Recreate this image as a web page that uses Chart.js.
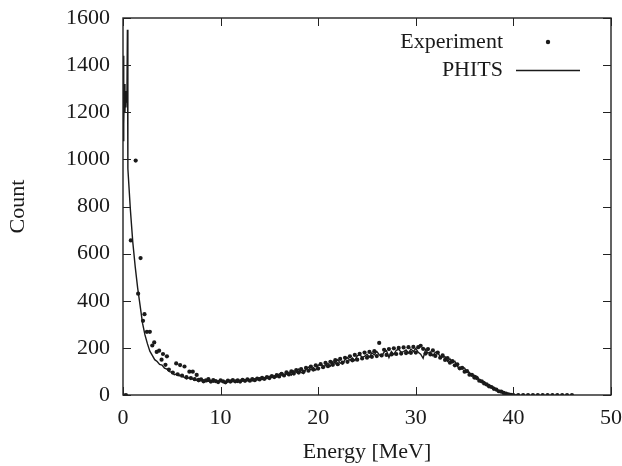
<!DOCTYPE html>
<html>
<head>
<meta charset="utf-8">
<title>Energy spectrum</title>
<script src="https://cdn.jsdelivr.net/npm/chart.js@4.4.0/dist/chart.umd.min.js"></script>
<style>
  body { margin: 0; background: #fff; }
  canvas { display: block; }
</style>
</head>
<body>
<canvas id="spectrumChart" width="622" height="466"></canvas>
<script>
// Axis ticks
const energyTicks = [0, 10, 20, 30, 40, 50];
const countTicks = [0, 200, 400, 600, 800, 1000, 1200, 1400, 1600];

// Experiment points (energy in MeV, counts)
const expEnergy = [
  0, 0.3, 0.8, 1.3, 1.55, 1.8, 2.05, 2.2, 2.45, 2.75, 3.0, 3.2, 3.45, 3.7, 3.95, 4.1, 4.35, 4.5, 4.7, 5.1,
  5.45, 5.6, 5.85, 6.05, 6.3, 6.5, 6.8, 6.95, 7.15, 7.35, 7.55, 7.75,
  8.0, 8.25, 8.5, 8.75, 9.0, 9.25, 9.5, 9.75, 10.0, 10.25, 10.5, 10.75, 11.0, 11.25, 11.5, 11.75,
  12.0, 12.25, 12.5, 12.75, 13.0, 13.25, 13.5, 13.75, 14.0, 14.25, 14.5, 14.75, 15.0, 15.25, 15.5, 15.75,
  16.0, 16.25, 16.5, 16.75, 17.0, 17.25, 17.5, 17.75, 18.0, 18.25, 18.5, 18.75, 19.0, 19.25, 19.5, 19.75,
  20.0, 20.25, 20.5, 20.75, 21.0, 21.25, 21.5, 21.75, 22.0, 22.25, 22.5, 22.75, 23.0, 23.25, 23.5, 23.75,
  24.0, 24.25, 24.5, 24.75, 25.0, 25.25, 25.5, 25.75, 26.0, 26.25, 26.5, 26.75, 27.0, 27.25, 27.5, 27.75,
  28.0, 28.25, 28.5, 28.75, 29.0, 29.25, 29.5, 29.75, 30.0, 30.25, 30.5, 30.75, 31.0, 31.25, 31.5, 31.75,
  32.0, 32.25, 32.5, 32.75, 33.0, 33.25, 33.5, 33.75, 34.0, 34.25, 34.5, 34.75, 35.0, 35.25, 35.5, 35.75,
  36.0, 36.25, 36.5, 36.75, 37.0, 37.25, 37.5, 37.75, 38.0, 38.25, 38.5, 38.75, 39.0, 39.25, 39.5, 39.75,
  40.0, 40.5, 41.0, 41.5, 42.0, 42.5, 43.0, 43.5, 44.0, 44.5, 45.0, 45.5, 46.0
];
const expCount = [
  0, 0, 656, 995, 430, 581, 315, 343, 268, 268, 210, 223, 183, 188, 150, 174, 128, 164, 108, 95,
  134, 88, 127, 82, 121, 76, 99, 72, 99, 67, 85, 64,
  66, 58, 62, 67, 57, 63, 59, 55, 62, 58, 54, 61, 57, 63, 58, 62,
  57, 64, 60, 66, 61, 68, 63, 70, 66, 73, 69, 76, 72, 80, 76, 84,
  79, 90, 83, 96, 87, 100, 91, 106, 95, 110, 99, 115, 103, 121, 108, 126,
  112, 131, 118, 136, 122, 141, 128, 148, 131, 153, 138, 158, 141, 164, 147, 170,
  150, 175, 155, 180, 158, 183, 162, 186, 165, 221, 168, 192, 170, 195, 172, 198,
  174, 200, 176, 202, 178, 203, 179, 204, 180, 203, 209, 196, 176, 195, 172, 189,
  166, 180, 158, 168, 149, 157, 137, 144, 126, 130, 113, 115, 99, 101, 86, 86,
  74, 72, 61, 58, 49, 45, 37, 34, 26, 23, 16, 14, 9, 6, 3, 1,
  0, 0, 0, 0, 0, 0, 0, 0, 0, 0, 0, 0, 0
];

// PHITS simulation (energy in MeV, counts)
const phitsEnergy = [
  0, 0.05, 0.1, 0.15, 0.2, 0.25, 0.3, 0.35, 0.4, 0.45, 0.5, 0.75, 1.0, 1.25, 1.5, 1.75, 2.0, 2.25, 2.5, 2.75,
  3.0, 3.25, 3.5, 3.75, 4.0, 4.25, 4.5, 4.75,
  5.0, 5.25, 5.5, 5.75, 6.0, 6.25, 6.5, 6.75, 7.0, 7.25, 7.5, 7.75, 8.0, 8.25, 8.5, 8.75,
  9.0, 9.25, 9.5, 9.75, 10.0, 10.25, 10.5, 10.75, 11.0, 11.25, 11.5, 11.75, 12.0, 12.25, 12.5, 12.75,
  13.0, 13.25, 13.5, 13.75, 14.0, 14.25, 14.5, 14.75, 15.0, 15.25, 15.5, 15.75, 16.0, 16.25, 16.5, 16.75,
  17.0, 17.25, 17.5, 17.75, 18.0, 18.25, 18.5, 18.75, 19.0, 19.25, 19.5, 19.75, 20.0, 20.25, 20.5, 20.75,
  21.0, 21.25, 21.5, 21.75, 22.0, 22.25, 22.5, 22.75, 23.0, 23.25, 23.5, 23.75, 24.0, 24.25, 24.5, 24.75,
  25.0, 25.25, 25.5, 25.75, 26.0, 26.25, 26.5, 26.75, 27.0, 27.25, 27.5, 27.75, 28.0, 28.25, 28.5, 28.75,
  29.0, 29.25, 29.5, 29.75, 30.0, 30.25, 30.5, 30.75, 31.0, 31.25, 31.5, 31.75, 32.0, 32.25, 32.5, 32.75,
  33.0, 33.25, 33.5, 33.75, 34.0, 34.25, 34.5, 34.75, 35.0, 35.25, 35.5, 35.75, 36.0, 36.25, 36.5, 36.75,
  37.0, 37.25, 37.5, 37.75, 38.0, 38.25, 38.5, 38.75, 39.0, 39.25, 39.5, 39.75, 40.0, 40.25, 40.5
];
const phitsCount = [
  1080, 1440, 1150, 1320, 1200, 1290, 1220, 1280, 1240, 1550, 960, 790, 650, 545, 455, 380, 305, 255, 218, 186,
  168, 150, 142, 130, 127, 114, 110, 99,
  97, 86, 89, 81, 85, 75, 68, 73, 72, 64, 64, 57, 63, 64, 57, 58,
  60, 54, 60, 56, 62, 54, 50, 58, 62, 56, 60, 54, 63, 65, 59, 61,
  65, 60, 68, 65, 73, 66, 64, 74, 79, 75, 80, 76, 89, 94, 83, 88,
  96, 85, 103, 95, 110, 96, 91, 110, 118, 107, 117, 106, 126, 131, 121, 125,
  134, 123, 142, 134, 150, 136, 131, 150, 158, 147, 157, 146, 166, 171, 160, 164,
  172, 161, 179, 171, 185, 171, 164, 182, 188, 159, 184, 172, 190, 194, 182, 184,
  191, 178, 195, 185, 198, 181, 173, 156, 193, 178, 183, 167, 181, 180, 163, 161,
  162, 143, 153, 137, 143, 122, 111, 118, 114, 97, 96, 80, 84, 79, 64, 60,
  57, 45, 45, 35, 33, 23, 18, 17, 14, 7, 5, 3, 1, 0, 0
];

const serif = { family: "'Liberation Serif', 'Times New Roman', serif", size: 22 };
const inkColor = '#1a1a1a';

// Pair the arrays up into {x, y} points
function toPoints(xs, ys) {
  return xs.map((x, i) => ({ x: x, y: ys[i] }));
}

// gnuplot style frame: box round the plot, ticks pointing inward on all four sides, key in the corner
const frameAndKey = {
  id: 'frameAndKey',
  afterDatasetsDraw(chart) {
    const { ctx, chartArea: a, scales: { x, y } } = chart;
    const tickLen = 8;
    ctx.save();
    ctx.strokeStyle = '#222';
    ctx.lineWidth = 1.4;
    ctx.strokeRect(a.left, a.top, a.right - a.left, a.bottom - a.top);

    ctx.lineWidth = 1;
    ctx.beginPath();
    x.ticks.forEach(t => {
      const px = Math.round(x.getPixelForValue(t.value)) + 0.5;
      ctx.moveTo(px, a.bottom); ctx.lineTo(px, a.bottom - tickLen);
      ctx.moveTo(px, a.top); ctx.lineTo(px, a.top + tickLen);
    });
    y.ticks.forEach(t => {
      const py = Math.round(y.getPixelForValue(t.value)) + 0.5;
      ctx.moveTo(a.left, py); ctx.lineTo(a.left + tickLen, py);
      ctx.moveTo(a.right, py); ctx.lineTo(a.right - tickLen, py);
    });
    ctx.stroke();

    // key
    ctx.font = serif.size + 'px ' + serif.family;
    ctx.fillStyle = inkColor;
    ctx.textAlign = 'right';
    ctx.textBaseline = 'middle';
    const keyRight = a.right - 108;
    ctx.fillText(chart.data.datasets[0].label, keyRight, a.top + 24);
    ctx.fillText(chart.data.datasets[1].label, keyRight, a.top + 52);

    ctx.beginPath();
    ctx.arc(keyRight + 45, a.top + 24, 2.2, 0, Math.PI * 2);
    ctx.fill();

    ctx.strokeStyle = inkColor;
    ctx.lineWidth = 1.4;
    ctx.beginPath();
    ctx.moveTo(keyRight + 13, a.top + 52.5);
    ctx.lineTo(keyRight + 77, a.top + 52.5);
    ctx.stroke();
    ctx.restore();
  }
};

const spectrumCanvas = document.querySelector('#spectrumChart');

const spectrumChart = new Chart(spectrumCanvas, {
  type: 'scatter',
  data: {
    datasets: [
      {
        label: 'Experiment',
        data: toPoints(expEnergy, expCount),
        showLine: false,
        pointRadius: 2.1,
        pointBackgroundColor: inkColor,
        pointBorderWidth: 0
      },
      {
        label: 'PHITS',
        data: toPoints(phitsEnergy, phitsCount),
        showLine: true,
        pointRadius: 0,
        borderColor: inkColor,
        borderWidth: 1.4,
        tension: 0,
        fill: false
      }
    ]
  },
  options: {
    responsive: false,
    animation: false,
    layout: { padding: { top: 18, right: 11, left: 0, bottom: 0 } },
    plugins: {
      legend: { display: false },
      tooltip: { enabled: false }
    },
    scales: {
      x: {
        type: 'linear',
        min: energyTicks[0],
        max: energyTicks[energyTicks.length - 1],
        afterBuildTicks: s => { s.ticks = energyTicks.map(v => ({ value: v })); },
        ticks: { color: inkColor, font: serif, padding: 10, maxRotation: 0, callback: v => String(v) },
        grid: { display: false, drawTicks: false },
        border: { display: false },
        title: { display: true, text: 'Energy [MeV]', color: inkColor, font: serif, padding: { top: 0, bottom: 1 } },
        afterFit: s => { s.height = 71; s.paddingLeft = 0; s.paddingRight = 0; }
      },
      y: {
        type: 'linear',
        min: countTicks[0],
        max: countTicks[countTicks.length - 1],
        afterBuildTicks: s => { s.ticks = countTicks.map(v => ({ value: v })); },
        ticks: { color: inkColor, font: serif, padding: 13, callback: v => String(v) },
        grid: { display: false, drawTicks: false },
        border: { display: false },
        title: { display: true, text: 'Count', color: inkColor, font: serif, padding: { top: 5, bottom: 0 } },
        afterFit: s => { s.width = 123; s.paddingTop = 0; s.paddingBottom = 0; }
      }
    }
  },
  plugins: [frameAndKey]
});
</script>
</body>
</html>
